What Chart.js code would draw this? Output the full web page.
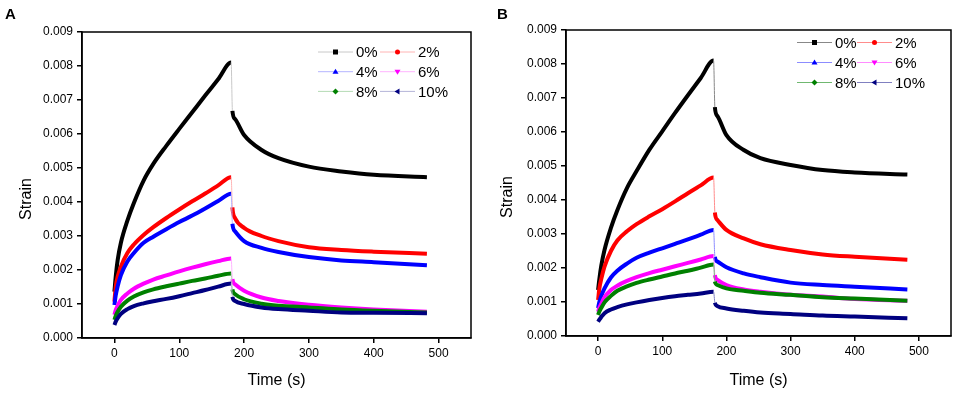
<!DOCTYPE html>
<html>
<head>
<meta charset="utf-8">
<script src="https://cdn.jsdelivr.net/npm/chart.js@4.4.1/dist/chart.umd.min.js"></script>
<style>
  html, body { margin: 0; padding: 0; background: #fff; }
  #wrap { position: relative; width: 957px; height: 396px; overflow: hidden; }
  canvas { position: absolute; top: 0; }
  #chartA { left: 0; }
  #chartB { left: 478px; }
</style>
</head>
<body>
<div id="wrap">
  <canvas id="chartA" width="478" height="396"></canvas>
  <canvas id="chartB" width="479" height="396"></canvas>
</div>
<script>
// time (s): loading 0-180, unloading after 180
const times = [0, 2, 5, 10, 20, 30, 45, 60, 80, 100, 120, 140, 160, 180,
               182, 186, 200, 227, 253, 300, 350, 400, 482];
const labels = ['0%', '2%', '4%', '6%', '8%', '10%'];
const xTicks = [0, 100, 200, 300, 400, 500];
const yTicks = [0, 0.001, 0.002, 0.003, 0.004, 0.005, 0.006, 0.007, 0.008, 0.009];

// Panel A
const a0  = [0.00136, 0.00180, 0.00229, 0.00280, 0.00345, 0.00397, 0.00463, 0.00512, 0.00565, 0.00615, 0.00664, 0.00713, 0.00761, 0.00810,
             0.00668, 0.00644, 0.00597, 0.00553, 0.00529, 0.00504, 0.00490, 0.00480, 0.00473];
const a2  = [0.00107, 0.00150, 0.00180, 0.00210, 0.00250, 0.00275, 0.00303, 0.00326, 0.00353, 0.00378, 0.00402, 0.00425, 0.00449, 0.00473,
             0.00384, 0.00353, 0.00324, 0.00300, 0.00285, 0.00267, 0.00259, 0.00254, 0.00248];
const a4  = [0.00097, 0.00125, 0.00152, 0.00185, 0.00225, 0.00250, 0.00280, 0.00298, 0.00320, 0.00341, 0.00360, 0.00381, 0.00403, 0.00424,
             0.00336, 0.00314, 0.00285, 0.00265, 0.00253, 0.00238, 0.00228, 0.00223, 0.00214];
const a6  = [0.00068, 0.00082, 0.00095, 0.00112, 0.00131, 0.00145, 0.00160, 0.00172, 0.00184, 0.00196, 0.00207, 0.00217, 0.00226, 0.00234,
             0.00173, 0.00158, 0.00139, 0.00119, 0.00109, 0.00098, 0.00090, 0.00084, 0.00077];
const a8  = [0.00053, 0.00065, 0.00077, 0.00092, 0.00110, 0.00122, 0.00134, 0.00143, 0.00152, 0.00160, 0.00168, 0.00175, 0.00183, 0.00190,
             0.00143, 0.00129, 0.00114, 0.00101, 0.00095, 0.00090, 0.00084, 0.00080, 0.00075];
const a10 = [0.00038, 0.00048, 0.00058, 0.00071, 0.00085, 0.00094, 0.00102, 0.00108, 0.00115, 0.00123, 0.00132, 0.00141, 0.00151, 0.00160,
             0.00121, 0.00109, 0.00100, 0.00090, 0.00085, 0.00080, 0.00075, 0.00074, 0.00073];

// Panel B
const b0  = [0.00135, 0.00168, 0.00207, 0.00253, 0.00318, 0.00370, 0.00435, 0.00485, 0.00548, 0.00602, 0.00656, 0.00708, 0.00759, 0.00810,
             0.00673, 0.00647, 0.00591, 0.00547, 0.00523, 0.00503, 0.00488, 0.00481, 0.00475];
const b2  = [0.00106, 0.00140, 0.00168, 0.00204, 0.00250, 0.00281, 0.00308, 0.00329, 0.00352, 0.00373, 0.00396, 0.00420, 0.00443, 0.00466,
             0.00363, 0.00341, 0.00312, 0.00287, 0.00270, 0.00253, 0.00240, 0.00233, 0.00224];
const b4  = [0.00082, 0.00100, 0.00118, 0.00140, 0.00172, 0.00192, 0.00213, 0.00230, 0.00245, 0.00258, 0.00271, 0.00284, 0.00298, 0.00312,
             0.00233, 0.00219, 0.00202, 0.00184, 0.00173, 0.00157, 0.00150, 0.00145, 0.00137];
const b6  = [0.00071, 0.00083, 0.00095, 0.00114, 0.00135, 0.00148, 0.00162, 0.00173, 0.00185, 0.00195, 0.00205, 0.00215, 0.00225, 0.00235,
             0.00179, 0.00165, 0.00150, 0.00137, 0.00130, 0.00121, 0.00116, 0.00109, 0.00104];
const b8  = [0.00062, 0.00072, 0.00083, 0.00099, 0.00118, 0.00133, 0.00146, 0.00156, 0.00166, 0.00175, 0.00184, 0.00192, 0.00201, 0.00210,
             0.00160, 0.00150, 0.00140, 0.00133, 0.00127, 0.00121, 0.00114, 0.00110, 0.00104];
const b10 = [0.00042, 0.00048, 0.00056, 0.00067, 0.00078, 0.00085, 0.00093, 0.00099, 0.00106, 0.00112, 0.00117, 0.00121, 0.00125, 0.00130,
             0.00098, 0.00088, 0.00081, 0.00074, 0.00069, 0.00065, 0.00060, 0.00057, 0.00052];

const FONT = '"Liberation Sans", Arial, Helvetica, sans-serif';
const colors = ['#000000', '#ff0000', '#0000ff', '#ff00ff', '#008000', '#000080'];
const markers = ['square', 'circle', 'triUp', 'triDown', 'diamond', 'triLeft'];
const lightA = ['#c8c8c8', '#ffb4b4', '#b4b4ff', '#ffb4ff', '#b4dab4', '#b4b4d8'];
const lightB = ['#888888', '#ff8c8c', '#8c8cff', '#ff8cff', '#70b870', '#8080c0'];
const unloadIdx = times.indexOf(180);

function drawMarker(ctx, kind, x, y, color) {
  const s = 3;
  ctx.fillStyle = color;
  ctx.beginPath();
  if (kind === 'square') {
    ctx.rect(x - s + 0.5, y - s + 0.5, 2 * s - 1, 2 * s - 1);
  } else if (kind === 'circle') {
    ctx.arc(x, y, s - 0.5, 0, Math.PI * 2);
  } else if (kind === 'triUp') {
    ctx.moveTo(x, y - s); ctx.lineTo(x + s, y + s - 1); ctx.lineTo(x - s, y + s - 1);
  } else if (kind === 'triDown') {
    ctx.moveTo(x, y + s); ctx.lineTo(x + s, y - s + 1); ctx.lineTo(x - s, y - s + 1);
  } else if (kind === 'diamond') {
    ctx.moveTo(x, y - s); ctx.lineTo(x + s, y); ctx.lineTo(x, y + s); ctx.lineTo(x - s, y);
  } else {
    ctx.moveTo(x - s, y); ctx.lineTo(x + s - 1, y - s); ctx.lineTo(x + s - 1, y + s);
  }
  ctx.closePath();
  ctx.fill();
}

// legend drawn as line + marker + label, two columns
const miniLegend = {
  id: 'miniLegend',
  afterDraw(chart, args, opts) {
    const ctx = chart.ctx;
    ctx.save();
    ctx.font = '15px ' + FONT;
    ctx.textBaseline = 'middle';
    chart.data.datasets.forEach((ds, i) => {
      const x = opts.x + (i % 2) * opts.colGap;
      const y = opts.y + Math.floor(i / 2) * opts.rowGap;
      ctx.strokeStyle = opts.lineColors[i];
      ctx.lineWidth = 1;
      ctx.beginPath();
      ctx.moveTo(x, y);
      ctx.lineTo(x + 35, y);
      ctx.stroke();
      drawMarker(ctx, markers[i], x + 17.5, y, colors[i]);
      ctx.fillStyle = '#000';
      ctx.fillText(ds.label, x + 38, y + 1);
    });
    ctx.restore();
  }
};

// box around plot, panel letter and the y title (sits a bit below centre)
const frame = {
  id: 'frame',
  afterDraw(chart, args, opts) {
    const {ctx, chartArea: a} = chart;
    ctx.save();
    ctx.strokeStyle = '#000';
    ctx.lineWidth = 1.5;
    ctx.strokeRect(a.left, a.top, a.right - a.left, a.bottom - a.top);
    ctx.fillStyle = '#000';
    ctx.font = 'bold 15px ' + FONT;
    ctx.textBaseline = 'top';
    ctx.fillText(opts.letter, opts.lx, opts.ly);

    ctx.font = '16px ' + FONT;
    ctx.textAlign = 'center';
    ctx.textBaseline = 'middle';
    ctx.translate(opts.tx, opts.ty);
    ctx.rotate(-Math.PI / 2);
    ctx.fillText('Strain', 0, 0);
    ctx.restore();
  }
};

function makeChart(id, series, cfg) {
  const datasets = series.map((vals, i) => ({
    label: labels[i],
    data: vals.map((v, k) => ({x: times[k], y: v})),
    borderColor: colors[i],
    borderWidth: 4,
    pointRadius: 0,
    cubicInterpolationMode: 'monotone',
    order: series.length - i,
    segment: {
      borderWidth: ctx => ctx.p0DataIndex === unloadIdx ? 1 : 4,
      borderColor: ctx => ctx.p0DataIndex === unloadIdx ? cfg.lineColors[i] : colors[i]
    }
  }));

  return new Chart(document.getElementById(id), {
    type: 'line',
    data: { datasets },
    plugins: [miniLegend, frame],
    options: {
      responsive: false,
      animation: false,
      layout: { padding: { top: cfg.top, right: cfg.right, left: 0, bottom: 0 } },
      plugins: {
        legend: { display: false },
        tooltip: { enabled: false },
        miniLegend: { x: cfg.legX, y: cfg.legY, colGap: cfg.colGap, rowGap: cfg.rowGap, lineColors: cfg.lineColors },
        frame: { letter: cfg.letter, lx: cfg.lx, ly: cfg.ly, tx: cfg.tx, ty: cfg.ty }
      },
      scales: {
        x: {
          type: 'linear',
          min: -50,
          max: 550,
          afterBuildTicks: s => { s.ticks = xTicks.map(v => ({value: v})); },
          afterFit: s => { s.height = cfg.xh; },
          ticks: { color: '#000', font: { family: FONT, size: 12 }, padding: 3, maxRotation: 0, autoSkip: false },
          grid: { drawOnChartArea: false, drawTicks: true, tickLength: 5, color: '#000', lineWidth: 1.5 },
          border: { display: true, color: '#000', width: 1.5 },
          title: { display: true, text: 'Time (s)', color: '#000', font: { family: FONT, size: 16 }, padding: { top: 0, bottom: 6 } }
        },
        y: {
          min: 0,
          max: 0.009,
          afterBuildTicks: s => { s.ticks = yTicks.map(v => ({value: v})); },
          afterFit: s => { s.width = cfg.yw; },
          ticks: { color: '#000', font: { family: FONT, size: 12 }, padding: 4, autoSkip: false,
                   callback: v => v.toFixed(3) },
          grid: { drawOnChartArea: false, drawTicks: true, tickLength: 5, color: '#000', lineWidth: 1.5 },
          border: { display: true, color: '#000', width: 1.5 }
        }
      }
    }
  });
}

makeChart('chartA', [a0, a2, a4, a6, a8, a10], {
  top: 32, right: 7, xh: 58, yw: 82, tx: 27, ty: 199,
  legX: 318, legY: 52, colGap: 62, rowGap: 19.7, lineColors: lightA,
  letter: 'A', lx: 5, ly: 7
});

makeChart('chartB', [b0, b2, b4, b6, b8, b10], {
  top: 30, right: 6, xh: 60, yw: 88, tx: 30, ty: 197,
  legX: 319, legY: 42.5, colGap: 60, rowGap: 20, lineColors: lightB,
  letter: 'B', lx: 19, ly: 7
});
</script>
</body>
</html>
